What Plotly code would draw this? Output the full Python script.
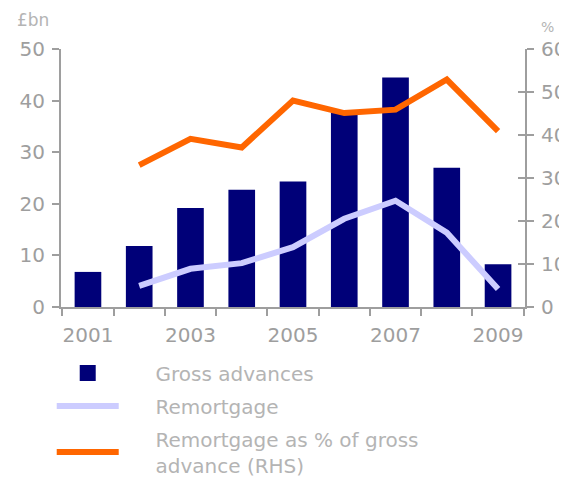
import plotly.graph_objects as go

years = ["2001", "2002", "2003", "2004", "2005", "2006", "2007", "2008", "2009"]
tick_text = ["2001", "", "2003", "", "2005", "", "2007", "", "2009"]
gross_advances = [6.8, 11.8, 19.2, 22.7, 24.3, 38.0, 44.5, 27.0, 8.3]
remortgage = [None, 4.1, 7.4, 8.5, 11.6, 17.1, 20.6, 14.4, 3.5]
remortgage_pct = [None, 33.0, 39.1, 37.1, 48.0, 45.1, 45.9, 52.9, 40.9]

GREY = "#9e9e9e"
FONT = "DejaVu Sans"
PAD = "\u00a0" * 5  # push legend text right of the symbols

fig = go.Figure()

fig.add_trace(go.Bar(
    x=years, y=gross_advances, name="Gross advances",
    marker=dict(color="#000078", line=dict(width=0)),
    legendgroup="a", showlegend=False,
))
# legend proxy for the bars (bigger square than the default bar swatch)
fig.add_trace(go.Scatter(
    x=[None], y=[None], mode="markers", name=PAD + "Gross advances",
    marker=dict(color="#000078", symbol="square", size=16),
    legendgroup="a",
))
fig.add_trace(go.Scatter(
    x=years, y=remortgage, mode="lines", name=PAD + "Remortgage",
    line=dict(color="#ccccff", width=6), legendgroup="b",
))
fig.add_trace(go.Scatter(
    x=years, y=remortgage_pct, mode="lines", yaxis="y2",
    name=PAD + "Remortgage as % of gross<br>" + PAD + "advance (RHS)",
    line=dict(color="#ff6600", width=6), legendgroup="c",
))

# page body has an 8px margin, so the figure is shrunk to fit the window
fig.update_layout(
    width=559, height=469,
    margin=dict(l=53, r=42, t=41, b=170, autoexpand=False),
    paper_bgcolor="white", plot_bgcolor="white",
    font=dict(family=FONT, size=20, color=GREY),
    bargap=0.48,
    showlegend=True,
    legend=dict(
        x=-0.02, xanchor="left", y=-0.18, yanchor="top",
        orientation="v", itemwidth=62, itemsizing="trace",
        font=dict(size=20, color="#b4b4b4"),
        tracegroupgap=4, traceorder="grouped",
    ),
    xaxis=dict(
        type="category", tickmode="array", tickvals=years, ticktext=tick_text,
        tickson="boundaries", ticks="outside", ticklen=7, tickwidth=2, tickcolor=GREY,
        showline=True, linecolor=GREY, linewidth=2, showgrid=False, zeroline=False,
        ticklabelstandoff=9, tickangle=0, automargin=False,
    ),
    yaxis=dict(
        range=[0, 50], dtick=10, ticks="outside", ticklen=7, tickwidth=2, tickcolor=GREY,
        showline=True, linecolor=GREY, linewidth=2, showgrid=False, zeroline=False,
        ticklabelstandoff=3, automargin=False,
    ),
    yaxis2=dict(
        range=[0, 60], dtick=10, overlaying="y", side="right", anchor="x",
        ticks="outside", ticklen=7, tickwidth=2, tickcolor=GREY,
        showline=True, linecolor=GREY, linewidth=2, showgrid=False, zeroline=False,
        ticklabelstandoff=3, automargin=False,
    ),
    yaxis3=dict(
        range=[0, 60], dtick=10, overlaying="y", side="right", anchor="x",
        ticks="inside", ticklen=7, tickwidth=2, tickcolor=GREY,
        showticklabels=False, showline=False, showgrid=False, zeroline=False,
        automargin=False,
    ),
)

# invisible trace so the inside-tick right axis is drawn
fig.add_trace(go.Scatter(x=years, y=[None] * len(years), yaxis="y3",
                         showlegend=False, hoverinfo="skip"))

fig.add_annotation(text="£bn", xref="paper", yref="paper", x=-0.1, y=1.065,
                   xanchor="left", yanchor="bottom", showarrow=False,
                   font=dict(size=17, color="#b4b4b4"))
fig.add_annotation(text="%", xref="paper", yref="paper", x=1.03, y=1.045,
                   xanchor="left", yanchor="bottom", showarrow=False,
                   font=dict(size=14, color="#b4b4b4"))

fig.write_html("out.html")
